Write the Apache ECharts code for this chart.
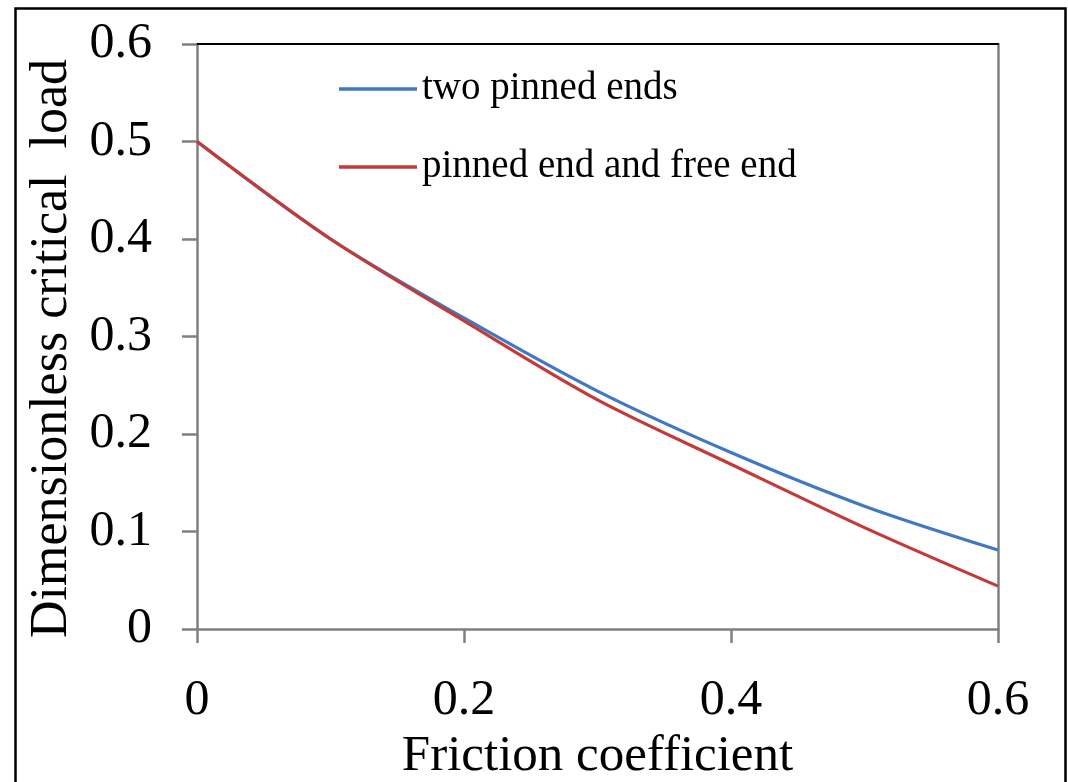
<!DOCTYPE html>
<html>
<head>
<meta charset="utf-8">
<script src="https://cdn.jsdelivr.net/npm/echarts@6/dist/echarts.min.js"></script>
<style>
html,body{margin:0;padding:0;background:#fff;}
#chart{width:1068px;height:782px;}
</style>
</head>
<body>
<div id="chart"></div>
<script>
const frictionCoefficient = [0, 0.1, 0.2, 0.3, 0.4, 0.5, 0.6];
const twoPinnedEnds = [0.5, 0.400, 0.319, 0.244, 0.181, 0.126, 0.081];
const pinnedEndAndFreeEnd = [0.5, 0.400, 0.316, 0.235, 0.169, 0.104, 0.044];
const seriesNames = ['two pinned ends', 'pinned end and free end'];
const xAxisTitle = 'Friction coefficient';
const yAxisTitle = 'Dimensionless critical  load';

const font = "'Liberation Serif','Times New Roman',serif";
const chart = echarts.init(document.getElementById('chart'), null, {renderer: 'canvas'});
const pairs = (xs, ys) => xs.map((x, i) => [x, ys[i]]);

chart.setOption({
  animation: false,
  backgroundColor: '#fff',
  grid: {left: 197, right: 70, top: 44, bottom: 153, containLabel: false, outerBoundsMode: 'none'},
  legend: {
    orient: 'vertical',
    left: 334,
    top: 62,
    icon: 'rect',
    itemWidth: 78,
    itemHeight: 3.5,
    itemGap: 34,
    textStyle: {fontFamily: font, fontSize: 39, color: '#000', lineHeight: 44, padding: [0, 0, 0, 0]},
    data: seriesNames
  },
  xAxis: [{
    type: 'value', min: 0, max: 0.6, interval: 0.2,
    name: xAxisTitle, nameLocation: 'middle', nameGap: 97,
    nameTextStyle: {fontFamily: font, fontSize: 51, color: '#000'},
    axisLine: {show: true, onZero: false, lineStyle: {color: '#808080', width: 2.5}},
    axisTick: {show: true, inside: false, length: 14, lineStyle: {color: '#808080', width: 2.5}},
    axisLabel: {fontFamily: font, fontSize: 50, color: '#000', margin: 47,
      formatter: v => (v === 0 ? '0' : String(+v.toFixed(1)))},
    splitLine: {show: false}
  }, {
    type: 'value', position: 'top', min: 0, max: 0.6,
    axisLine: {show: true, onZero: false, lineStyle: {color: '#000', width: 2}},
    axisTick: {show: false}, axisLabel: {show: false}, splitLine: {show: false}
  }],
  yAxis: [{
    type: 'value', min: 0, max: 0.6, interval: 0.1,
    name: yAxisTitle, nameLocation: 'middle', nameGap: 119, nameRotate: 90,
    nameTextStyle: {fontFamily: font, fontSize: 52, color: '#000', padding: [0, 24, 0, 0]},
    axisLine: {show: true, onZero: false, lineStyle: {color: '#808080', width: 2.5}},
    axisTick: {show: true, inside: false, length: 15, lineStyle: {color: '#808080', width: 2.5}},
    axisLabel: {fontFamily: font, fontSize: 50, color: '#000', margin: 45,
      formatter: v => (v === 0 ? '0' : String(+v.toFixed(1)))},
    splitLine: {show: false}
  }, {
    type: 'value', position: 'right', min: 0, max: 0.6,
    axisLine: {show: true, onZero: false, lineStyle: {color: '#808080', width: 2.5}},
    axisTick: {show: false}, axisLabel: {show: false}, splitLine: {show: false}
  }],
  series: [{
    name: seriesNames[0], type: 'line', smooth: 0.3, showSymbol: false, symbol: 'none',
    data: pairs(frictionCoefficient, twoPinnedEnds),
    lineStyle: {color: '#4178C6', width: 3.2}, itemStyle: {color: '#4178C6'}, z: 2
  }, {
    name: seriesNames[1], type: 'line', smooth: 0.3, showSymbol: false, symbol: 'none',
    data: pairs(frictionCoefficient, pinnedEndAndFreeEnd),
    lineStyle: {color: '#C43A37', width: 3.2}, itemStyle: {color: '#C43A37'}, z: 3
  }],
  graphic: [{
    type: 'rect', left: 13, top: 6, silent: true,
    shape: {x: 0, y: 0, width: 1050, height: 800},
    style: {fill: 'none', stroke: '#000', lineWidth: 2.5}
  }]
});
</script>
</body>
</html>
